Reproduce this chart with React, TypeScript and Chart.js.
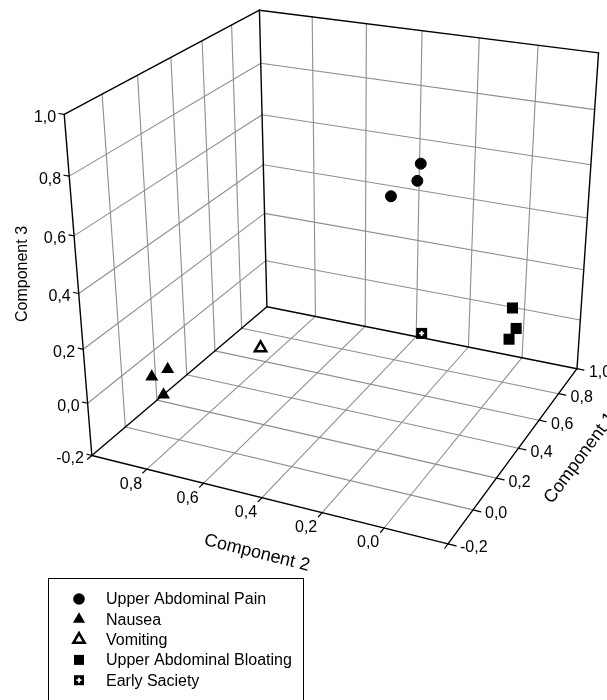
import React, { useEffect, useRef } from "react";
import { Chart, registerables } from "chart.js";

Chart.register(...registerables);

// ---- Data: component loadings (Component 1, Component 2, Component 3) ----
const painComp1 = [0.2, 0.25, 0.15];
const painComp2 = [0.07, 0.1, 0.14];
const painComp3 = [0.85, 0.77, 0.75];

const nauseaComp1 = [0.1, 0.05, 0.05];
const nauseaComp2 = [0.89, 0.92, 0.88];
const nauseaComp3 = [0.0, -0.01, -0.07];

const vomitingComp1 = [0.36];
const vomitingComp2 = [0.69];
const vomitingComp3 = [0.0];

const bloatingComp1 = [0.9, 0.92, 0.85];
const bloatingComp2 = [0.01, 0.0, 0.0];
const bloatingComp3 = [0.05, -0.04, -0.05];

const satietyComp1 = [0.68];
const satietyComp2 = [0.25];
const satietyComp3 = [0.0];

const seriesLabels = [
  "Upper Abdominal Pain",
  "Nausea",
  "Vomiting",
  "Upper Abdominal Bloating",
  "Early Saciety",
];

const axisTicks = [-0.2, 0, 0.2, 0.4, 0.6, 0.8, 1.0];
const tickLabels = ["-0,2", "0,0", "0,2", "0,4", "0,6", "0,8", "1,0"];
const comp2Labelled = ["0,0", "0,2", "0,4", "0,6", "0,8"];
const axisTitles = ["Component 1", "Component 2", "Component 3"];

// ---- 3D view (perspective camera) ----
const VIEW = {
  yaw: 24.85,
  pitch: 26.91,
  dist: 5.7105,
  focal: 1681.4,
  cx: 345.73,
  cy: 354.01,
  halfXY: 0.63,
  halfZ: 0.5872,
  targetZ: -0.3701,
  roll: -0.106,
};
const LO = axisTicks[0];
const HI = axisTicks[axisTicks.length - 1];

function project(c1: number, c2: number, c3: number) {
  const mid = (LO + HI) / 2;
  const half = (HI - LO) / 2;
  const nu = (c1 - mid) / half;
  const nv = (c2 - mid) / half;
  const nw = (c3 - mid) / half;
  const ya = (VIEW.yaw * Math.PI) / 180;
  const X = VIEW.halfXY * (nu * Math.sin(ya) - nv * Math.cos(ya));
  const Y = VIEW.halfXY * (nu * Math.cos(ya) + nv * Math.sin(ya));
  const Z = VIEW.halfZ * nw;
  const p = (VIEW.pitch * Math.PI) / 180;
  const Fy = Math.cos(p);
  const Fz = -Math.sin(p);
  const Uy = Math.sin(p);
  const Uz = Math.cos(p);
  const Cy = -VIEW.dist * Fy;
  const Cz = VIEW.targetZ - VIEW.dist * Fz;
  const dY = Y - Cy;
  const dZ = Z - Cz;
  const zc = dY * Fy + dZ * Fz;
  const yc = dY * Uy + dZ * Uz;
  const sx = (VIEW.focal * X) / zc;
  const sy = -(VIEW.focal * yc) / zc;
  const r = (VIEW.roll * Math.PI) / 180;
  return {
    x: VIEW.cx + sx * Math.cos(r) - sy * Math.sin(r),
    y: VIEW.cy + sx * Math.sin(r) + sy * Math.cos(r),
  };
}

const mk = (a: number[], b: number[], c: number[]) => a.map((v, i) => project(v, b[i], c[i]));

const FONT = '"Liberation Sans", Arial, Helvetica, sans-serif';
const GRID = "#8e8e8e";

const boxPlugin = {
  id: "box3d",
  beforeDatasetsDraw(chart: any) {
    const ctx: CanvasRenderingContext2D = chart.ctx;
    const xs = chart.scales.x;
    const ys = chart.scales.y;
    const sp = (a: number, b: number, c: number) => {
      const p = project(a, b, c);
      return { x: xs.getPixelForValue(p.x), y: ys.getPixelForValue(p.y) };
    };
    const line = (p: any, q: any) => {
      ctx.beginPath();
      ctx.moveTo(p.x, p.y);
      ctx.lineTo(q.x, q.y);
      ctx.stroke();
    };
    ctx.save();
    ctx.lineCap = "round";
    // grid lines
    ctx.strokeStyle = GRID;
    ctx.lineWidth = 1.1;
    axisTicks.slice(1, -1).forEach((t) => {
      line(sp(t, LO, LO), sp(t, HI, LO));
      line(sp(LO, t, LO), sp(HI, t, LO));
      line(sp(t, HI, LO), sp(t, HI, HI));
      line(sp(LO, HI, t), sp(HI, HI, t));
      line(sp(HI, t, LO), sp(HI, t, HI));
      line(sp(HI, LO, t), sp(HI, HI, t));
    });
    // box edges
    ctx.strokeStyle = "#000";
    ctx.lineWidth = 1.4;
    line(sp(LO, LO, LO), sp(HI, LO, LO));
    line(sp(LO, LO, LO), sp(LO, HI, LO));
    line(sp(LO, HI, LO), sp(HI, HI, LO));
    line(sp(HI, LO, LO), sp(HI, HI, LO));
    line(sp(LO, HI, LO), sp(LO, HI, HI));
    line(sp(LO, HI, HI), sp(HI, HI, HI));
    line(sp(HI, HI, LO), sp(HI, HI, HI));
    line(sp(HI, HI, HI), sp(HI, LO, HI));
    line(sp(HI, LO, HI), sp(HI, LO, LO));

    // ticks
    ctx.lineWidth = 1.2;
    axisTicks.forEach((t) => {
      line(sp(LO, HI, t), sp(LO, HI + 0.018, t)); // comp3
      line(sp(LO, t, LO), sp(LO - 0.025, t, LO)); // comp2
      line(sp(t, LO, LO), sp(t, LO - 0.025, LO)); // comp1
    });

    // tick labels
    ctx.fillStyle = "#000";
    ctx.font = `16px ${FONT}`;
    ctx.textBaseline = "middle";
    ctx.textAlign = "right";
    axisTicks.forEach((t, i) => {
      const p = sp(LO, HI, t);
      ctx.fillText(tickLabels[i], p.x - 8, p.y + 3);
    });
    ctx.textAlign = "center";
    axisTicks.forEach((t, i) => {
      if (!comp2Labelled.includes(tickLabels[i])) return;
      const p = sp(LO, t, LO);
      ctx.fillText(tickLabels[i], p.x - 16, p.y + 15);
    });
    ctx.textAlign = "left";
    axisTicks.forEach((t, i) => {
      const p = sp(t, LO, LO);
      ctx.fillText(tickLabels[i], p.x + 12, p.y + 4);
    });

    // axis titles
    const title = (txt: string, x: number, y: number, deg: number, size: number) => {
      ctx.save();
      ctx.translate(x, y);
      ctx.rotate((deg * Math.PI) / 180);
      ctx.font = `${size}px ${FONT}`;
      ctx.textAlign = "center";
      ctx.textBaseline = "middle";
      ctx.fillText(txt, 0, 0);
      ctx.restore();
    };
    const a1 = sp(LO, LO, LO);
    const b1 = sp(HI, LO, LO);
    const ang1 = (Math.atan2(b1.y - a1.y, b1.x - a1.x) * 180) / Math.PI;
    const b2 = sp(LO, HI, LO);
    const ang2 = (Math.atan2(a1.y - b2.y, a1.x - b2.x) * 180) / Math.PI;
    title(axisTitles[0], 580, 458, ang1, 18);
    title(axisTitles[1], 257, 553, ang2, 18);
    title(axisTitles[2], 23, 274, -90, 16);
    ctx.restore();
  },
};

function drawMarker(ctx: CanvasRenderingContext2D, kind: number, x: number, y: number) {
  ctx.save();
  ctx.fillStyle = "#000";
  ctx.strokeStyle = "#000";
  if (kind === 0) {
    ctx.beginPath();
    ctx.arc(x, y, 5.8, 0, Math.PI * 2);
    ctx.fill();
  } else if (kind === 1 || kind === 2) {
    const r = kind === 1 ? 7 : 6.5;
    ctx.beginPath();
    ctx.moveTo(x, y - r);
    ctx.lineTo(x + r * 0.866, y + r * 0.5);
    ctx.lineTo(x - r * 0.866, y + r * 0.5);
    ctx.closePath();
    if (kind === 1) ctx.fill();
    else {
      ctx.fillStyle = "#fff";
      ctx.fill();
      ctx.lineWidth = 2.5;
      ctx.lineJoin = "miter";
      ctx.stroke();
    }
  } else {
    const s = 5;
    ctx.fillRect(x - s, y - s, 2 * s, 2 * s);
    if (kind === 4) {
      ctx.strokeStyle = "#fff";
      ctx.lineWidth = 1.8;
      ctx.beginPath();
      ctx.moveTo(x - 2.5, y);
      ctx.lineTo(x + 2.5, y);
      ctx.moveTo(x, y - 2.5);
      ctx.lineTo(x, y + 2.5);
      ctx.stroke();
    }
  }
  ctx.restore();
}

const legendPlugin = {
  id: "boxLegend",
  afterDraw(chart: any) {
    const ctx: CanvasRenderingContext2D = chart.ctx;
    ctx.save();
    ctx.strokeStyle = "#000";
    ctx.lineWidth = 1;
    ctx.strokeRect(48.5, 578.5, 255, 140);
    ctx.font = `16px ${FONT}`;
    ctx.fillStyle = "#000";
    ctx.textAlign = "left";
    ctx.textBaseline = "middle";
    seriesLabels.forEach((lbl, i) => {
      const y = 599 + i * 20.3;
      drawMarker(ctx, i, 79, y);
      ctx.fillStyle = "#000";
      ctx.fillText(lbl, 106, y + 1);
    });
    ctx.restore();
  },
};

export default function App() {
  const ref = useRef<HTMLCanvasElement | null>(null);
  useEffect(() => {
    const canvas = ref.current;
    if (!canvas) return;
    const satietyPts = mk(satietyComp1, satietyComp2, satietyComp3);
    const chart = new Chart(canvas, {
      type: "scatter",
      data: {
        datasets: [
          {
            label: seriesLabels[0],
            data: mk(painComp1, painComp2, painComp3),
            pointStyle: "circle",
            pointRadius: 5.5,
            backgroundColor: "#000",
            borderColor: "#000",
            borderWidth: 1,
          },
          {
            label: seriesLabels[1],
            data: mk(nauseaComp1, nauseaComp2, nauseaComp3),
            pointStyle: "triangle",
            pointRadius: 7.5,
            backgroundColor: "#000",
            borderColor: "#000",
            borderWidth: 0,
          },
          {
            label: seriesLabels[2],
            data: mk(vomitingComp1, vomitingComp2, vomitingComp3),
            pointStyle: "triangle",
            pointRadius: 6.5,
            backgroundColor: "#fff",
            borderColor: "#000",
            borderWidth: 2.5,
          },
          {
            label: seriesLabels[3],
            data: mk(bloatingComp1, bloatingComp2, bloatingComp3),
            pointStyle: "rect",
            pointRadius: 7.8,
            backgroundColor: "#000",
            borderColor: "#000",
            borderWidth: 0,
          },
          {
            label: seriesLabels[4],
            data: satietyPts,
            pointStyle: "rect",
            pointRadius: 7.8,
            backgroundColor: "#000",
            borderColor: "#000",
            borderWidth: 0,
            order: 2,
          },
          {
            label: "",
            data: satietyPts,
            pointStyle: "cross",
            pointRadius: 2.5,
            backgroundColor: "#fff",
            borderColor: "#fff",
            borderWidth: 1.8,
            order: -1,
          },
        ],
      },
      options: {
        responsive: false,
        maintainAspectRatio: false,
        animation: false,
        devicePixelRatio: 1,
        layout: { padding: 0, autoPadding: false },
        events: [],
        plugins: { legend: { display: false }, tooltip: { enabled: false }, title: { display: false } },
        scales: {
          x: { type: "linear", min: 0, max: 607, display: false },
          y: { type: "linear", min: 0, max: 700, reverse: true, display: false },
        },
      } as any,
      plugins: [boxPlugin, legendPlugin],
    });
    return () => chart.destroy();
  }, []);
  return (
    <div style={{ position: "fixed", left: 0, top: 0, width: 607, height: 700, background: "#fff" }}>
      <canvas ref={ref} width={607} height={700} style={{ display: "block" }} />
    </div>
  );
}
